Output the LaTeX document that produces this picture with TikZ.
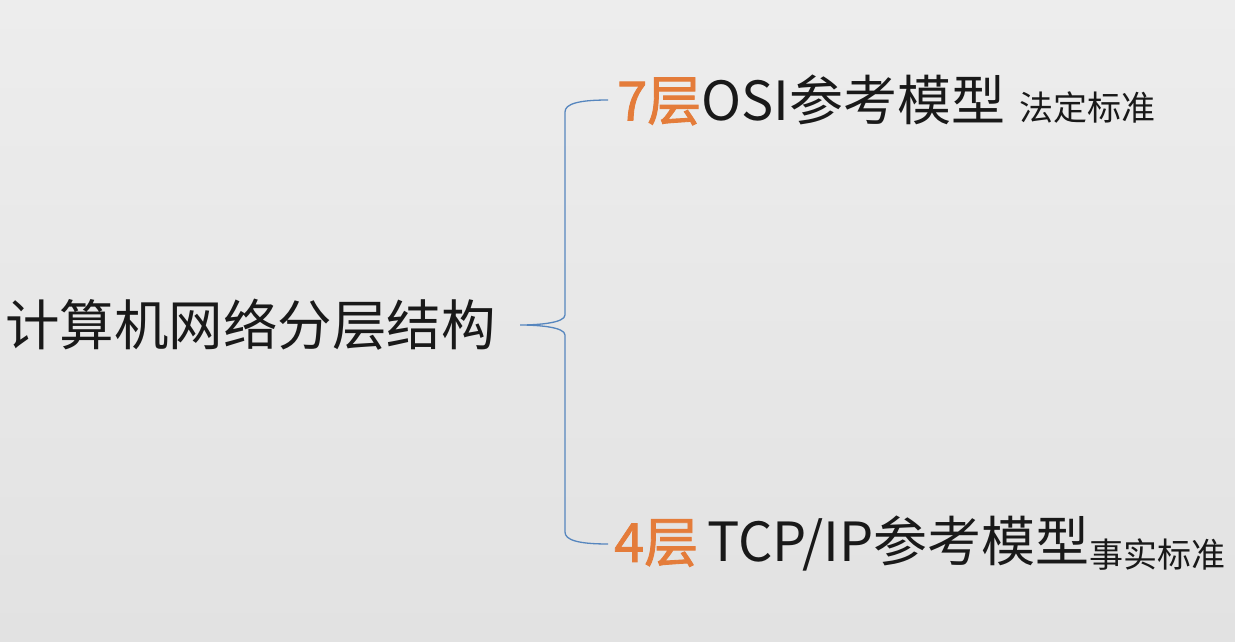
\documentclass[tikz,border=0pt]{standalone}
\usepackage{fontspec}
\setmainfont{Noto Sans CJK SC}
\newfontfamily\layerfont[FakeBold=1.6]{Noto Sans CJK SC}
\usetikzlibrary{calc}
\definecolor{bracecol}{RGB}{86,134,190}
\definecolor{layercol}{RGB}{228,124,58}
\definecolor{bgtop}{RGB}{237,237,237}
\definecolor{bgbottom}{RGB}{226,226,226}
\newcommand{\layer}[1]{{\layerfont\color{layercol}#1}}

\begin{document}
\begin{tikzpicture}[x=1pt, y=1pt,
    big/.style={inner sep=0pt, text=black!90, font=\fontsize{54}{60}\selectfont},
    note/.style={inner sep=0pt, text=black!90, font=\fontsize{34}{40}\selectfont},
    brace/.style={draw=bracecol, line width=1.3pt}]
            \shade[top color=bgtop, bottom color=bgbottom] (0, 0) rectangle (1235, -642);
            \useasboundingbox (0, 0) rectangle (1235, -642);
            \node[big, font=\fontsize{54.5}{60}\selectfont, anchor=east] (root) at (496, -325) {计算机网络分层结构};
            \node[big, anchor=west] (osi) at (617, -100) {\layer{7层}OSI参考模型};
            \node[note, anchor=base west] (osinote) at ([xshift=14pt]osi.base east) {法定标准};
            \node[big, anchor=west] (tcp) at (614, -544) {\layer{4层}\,TCP/IP参考模型};
            \node[note, anchor=base west] (tcpnote) at ([yshift=-6pt]tcp.base east) {事实标准};
            \coordinate (tip) at ([xshift=24pt]root.east);
            \draw[brace] ([xshift=-9pt]osi.west) .. controls +(-30, 0) and +(0, 8) .. ($(tip |- osi.west) + (45, -12)$)
                -- ($(tip) + (45, 10)$) .. controls +(0, -8) and +(18, 0) .. (tip)
                .. controls +(18, 0) and +(0, 8) .. ($(tip) + (45, -10)$)
                -- ($(tip |- tcp.west) + (45, 12)$) .. controls +(0, -8) and +(-30, 0) .. ([xshift=-6pt]tcp.west);
        \end{tikzpicture}
\end{document}
